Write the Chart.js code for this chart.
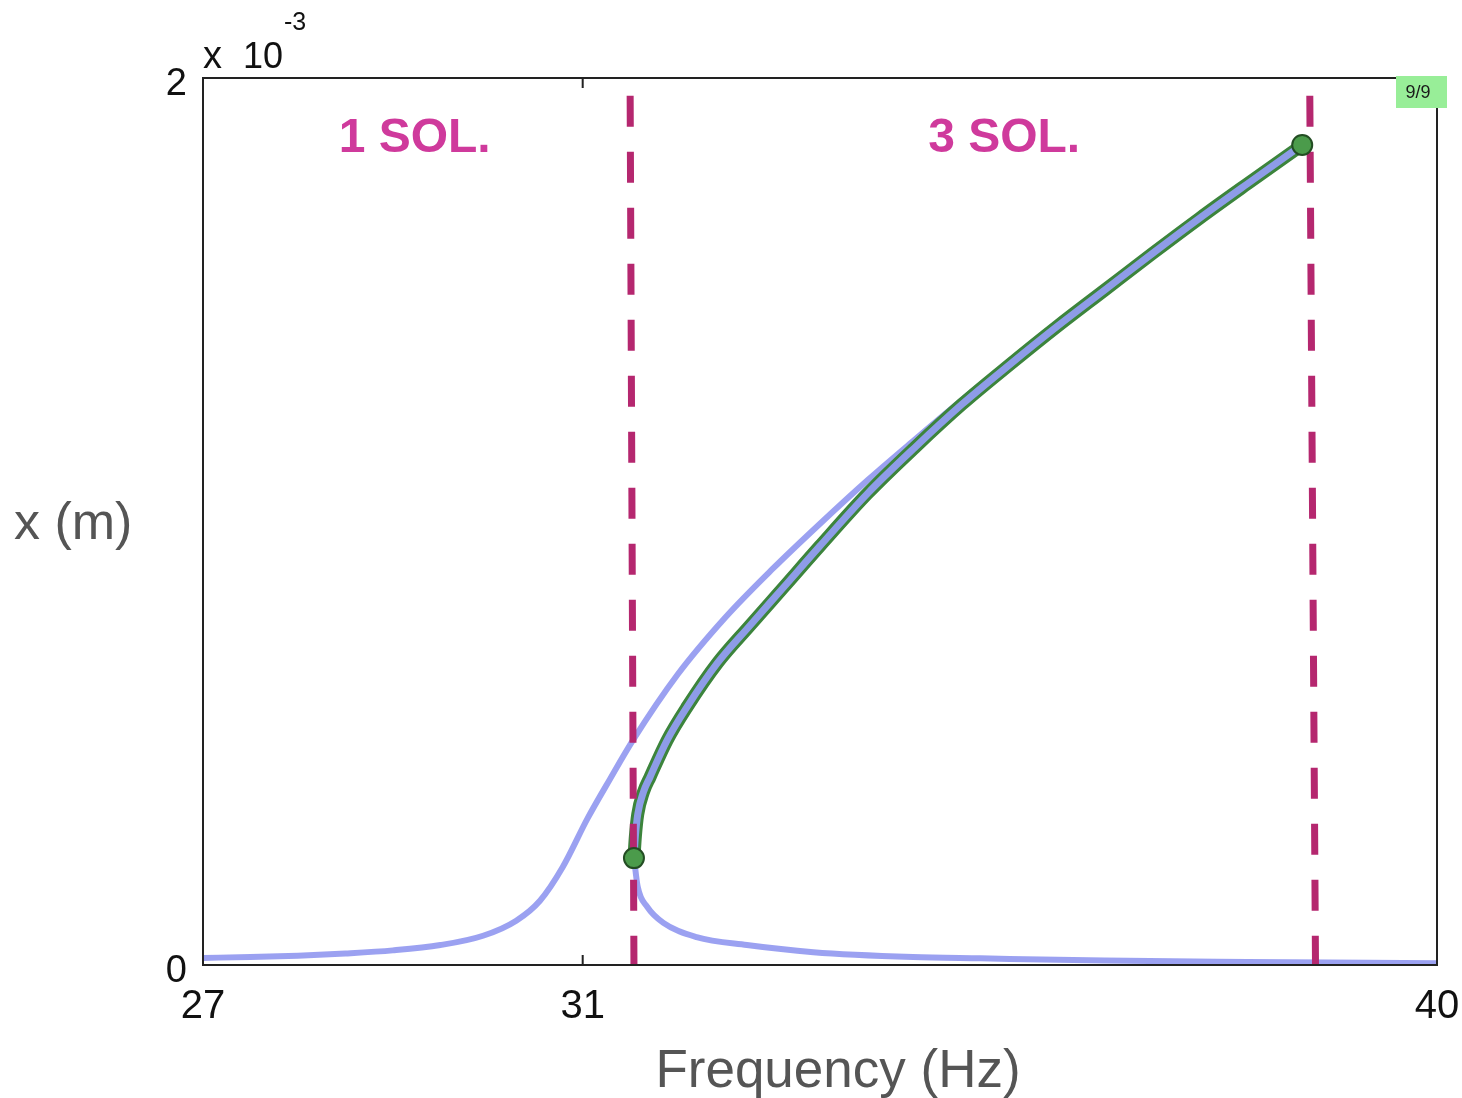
<!DOCTYPE html>
<html>
<head>
<meta charset="utf-8">
<script src="https://cdn.jsdelivr.net/npm/chart.js@4.4.1/dist/chart.umd.min.js"></script>
<style>
  html, body { margin: 0; padding: 0; background: #fff; }
  #wrap { width: 1462px; height: 1098px; }
</style>
</head>
<body>
<div id="wrap"><canvas id="freqChart" width="1462" height="1098"></canvas></div>
<script>
// ─── DATA ──────────────────────────────────
// frequency (Hz) / amplitude (x 10^-3 m)
const upperFreq = [27, 27.5, 28, 28.5, 29, 29.5, 29.95, 30.3, 30.55, 30.79, 31.05, 31.29, 31.53, 32.0, 32.5, 33.0, 33.5, 34.0, 34.5, 35.0, 35.5, 36.0, 36.5, 37.0, 37.5, 38.0, 38.58];
const upperAmp  = [0.016, 0.018, 0.021, 0.026, 0.033, 0.045, 0.066, 0.10, 0.145, 0.221, 0.33, 0.42, 0.507, 0.655, 0.783, 0.893, 0.995, 1.093, 1.185, 1.275, 1.36, 1.444, 1.526, 1.606, 1.685, 1.762, 1.849];

const unstableFreq = [31.54, 31.555, 31.58, 31.64, 31.71, 31.89, 32.10, 32.42, 32.76, 33.11, 33.5, 34.0, 34.5, 35.0, 35.5, 36.0, 36.5, 37.0, 37.5, 38.0, 38.58];
const unstableAmp  = [0.241, 0.29, 0.34, 0.39, 0.424, 0.507, 0.582, 0.681, 0.765, 0.85, 0.945, 1.063, 1.167, 1.265, 1.354, 1.44, 1.522, 1.604, 1.684, 1.761, 1.849];

const lowerFreq = [31.54, 31.58, 31.68, 31.85, 32.2, 32.73, 33.43, 34.48, 35.19, 36.5, 38, 40];
const lowerAmp  = [0.241, 0.176, 0.131, 0.095, 0.063, 0.045, 0.029, 0.018, 0.015, 0.010, 0.007, 0.004];

// saddle-node (turning) points
const turnFreq = [31.54, 38.58];
const turnAmp  = [0.241, 1.849];

// boundaries of the 3-solution region
const leftBoundFreq  = [31.5, 31.54];
const rightBoundFreq = [38.66, 38.72];
const boundAmp       = [1.96, 0];

const xTicks = [27, 31, 40];
const yTicks = [0, 2];
const regionLabels = ['1 SOL.', '3 SOL.'];
const regionLabelFreq = [29.23, 35.44];

const toPts = (xs, ys) => xs.map((x, i) => ({ x, y: ys[i] }));

// ─── STYLE ─────────────────────────────────
const BLUE = 'rgba(150,156,240,0.95)';
const BLUE_IN = '#8e9ce8';
const GREEN = '#3c843c';
const DASH = '#b5276f';
const PINK = '#cf3a9c';
const FONT = '"Liberation Sans", Arial, sans-serif';

// ─── FRAME + TEXT PLUGIN ───────────────────
const framePlugin = {
  id: 'frame',
  afterDraw(chart) {
    const { ctx, chartArea: a, scales: { x, y } } = chart;
    ctx.save();
    // box
    ctx.strokeStyle = '#222';
    ctx.lineWidth = 2;
    ctx.beginPath();
    ctx.moveTo(a.left, a.top);
    ctx.lineTo(a.right, a.top);
    ctx.lineTo(a.right, a.bottom);
    ctx.lineTo(a.left, a.bottom);
    ctx.closePath();
    ctx.stroke();
    // inward ticks
    ctx.beginPath();
    xTicks.forEach(v => {
      const px = x.getPixelForValue(v);
      ctx.moveTo(px, a.bottom); ctx.lineTo(px, a.bottom - 10);
      ctx.moveTo(px, a.top); ctx.lineTo(px, a.top + 10);
    });
    yTicks.forEach(v => {
      const py = y.getPixelForValue(v);
      ctx.moveTo(a.left, py); ctx.lineTo(a.left + 10, py);
      ctx.moveTo(a.right, py); ctx.lineTo(a.right - 10, py);
    });
    ctx.stroke();

    // exponent
    ctx.fillStyle = '#111';
    ctx.textBaseline = 'alphabetic';
    ctx.textAlign = 'left';
    ctx.font = '38px ' + FONT;
    ctx.fillText('x', a.left, 68);
    ctx.font = '36px ' + FONT;
    ctx.fillText('10', 243, 68);
    ctx.font = '25px ' + FONT;
    ctx.fillText('-3', 284, 30);

    // axis titles
    ctx.fillStyle = '#555';
    ctx.font = '52px ' + FONT;
    ctx.textBaseline = 'middle';
    ctx.fillText('x (m)', 14, 525);
    ctx.textAlign = 'center';
    ctx.textBaseline = 'alphabetic';
    ctx.font = '53px ' + FONT;
    ctx.fillText('Frequency (Hz)', 838, 1087);

    // region labels
    ctx.fillStyle = PINK;
    ctx.font = 'bold 48px ' + FONT;
    regionLabels.forEach((t, i) => {
      ctx.fillText(t, x.getPixelForValue(regionLabelFreq[i]), 152);
    });

    // page badge
    ctx.fillStyle = '#98ee98';
    ctx.fillRect(1396, 76, 51, 32);
    ctx.fillStyle = '#1a1a1a';
    ctx.font = '18px ' + FONT;
    ctx.textBaseline = 'middle';
    ctx.fillText('9/9', 1418, 93);
    ctx.restore();
  }
};

// ─── CHART ─────────────────────────────────
const ctx = document.getElementById('freqChart').getContext('2d');
new Chart(ctx, {
  type: 'line',
  data: {
    datasets: [
      {
        data: toPts(turnFreq, turnAmp),
        showLine: false,
        pointRadius: 10,
        pointBackgroundColor: '#4b9b4b',
        pointBorderColor: '#234d23',
        pointBorderWidth: 2,
        order: 0,
      },
      {
        data: toPts(leftBoundFreq, boundAmp),
        borderColor: DASH,
        borderWidth: 7,
        borderDash: [31, 25],
        pointRadius: 0,
        order: 1,
      },
      {
        data: toPts(rightBoundFreq, boundAmp),
        borderColor: DASH,
        borderWidth: 7,
        borderDash: [31, 25],
        pointRadius: 0,
        order: 1,
      },
      {
        data: toPts(unstableFreq, unstableAmp),
        borderColor: BLUE_IN,
        borderWidth: 7,
        pointRadius: 0,
        cubicInterpolationMode: 'monotone',
        order: 2,
      },
      {
        data: toPts(unstableFreq, unstableAmp),
        borderColor: GREEN,
        borderWidth: 13,
        pointRadius: 0,
        cubicInterpolationMode: 'monotone',
        order: 3,
      },
      {
        data: toPts(upperFreq, upperAmp),
        borderColor: BLUE,
        borderWidth: 6,
        pointRadius: 0,
        cubicInterpolationMode: 'monotone',
        order: 4,
      },
      {
        data: toPts(lowerFreq, lowerAmp),
        borderColor: BLUE,
        borderWidth: 6,
        pointRadius: 0,
        cubicInterpolationMode: 'monotone',
        order: 4,
      },
    ]
  },
  options: {
    responsive: false,
    animation: false,
    layout: { padding: { top: 78, right: 25, left: 0, bottom: 0 } },
    plugins: { legend: { display: false }, tooltip: { enabled: false } },
    scales: {
      x: {
        type: 'linear',
        min: 27, max: 40,
        afterBuildTicks: s => { s.ticks = xTicks.map(v => ({ value: v })); },
        afterFit: s => { s.height = 133; s.paddingLeft = 0; s.paddingRight = 0; },
        grid: { display: false },
        border: { display: false },
        ticks: { color: '#111', font: { family: FONT, size: 40 }, padding: 10, maxRotation: 0, autoSkip: false },
      },
      y: {
        type: 'linear',
        min: 0, max: 2,
        afterBuildTicks: s => { s.ticks = yTicks.map(v => ({ value: v })); },
        afterFit: s => { s.width = 203; s.paddingTop = 0; s.paddingBottom = 0; },
        grid: { display: false },
        border: { display: false },
        ticks: { color: '#111', font: { family: FONT, size: 38 }, padding: 8, labelOffset: 7 },
      }
    }
  },
  plugins: [framePlugin]
});
</script>
</body>
</html>
